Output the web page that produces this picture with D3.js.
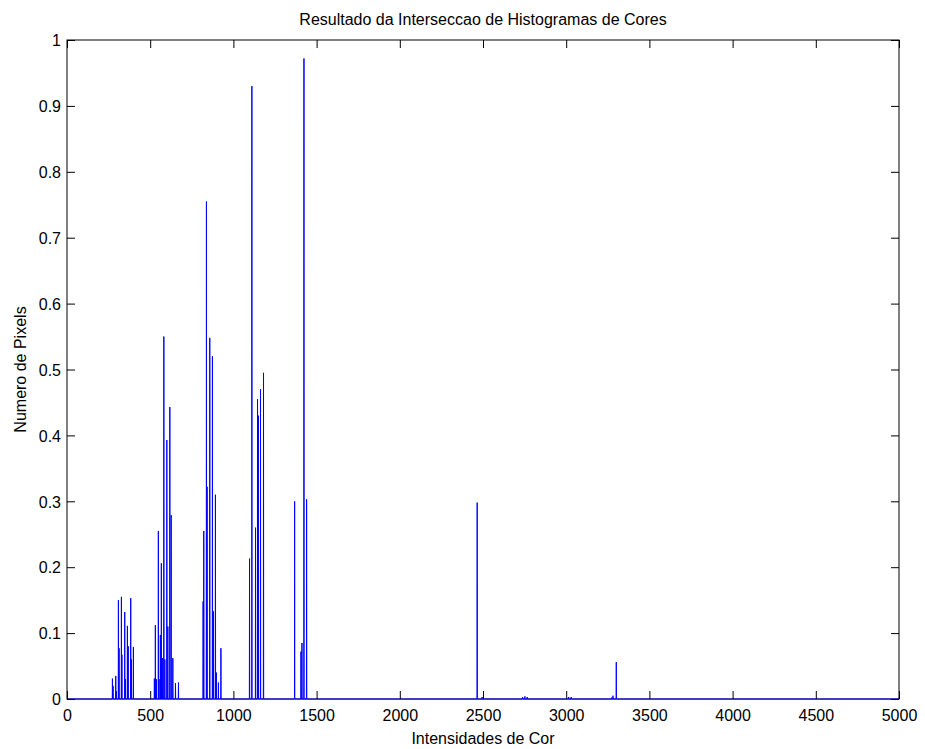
<!DOCTYPE html>
<html>
<head>
<meta charset="utf-8">
<script src="https://cdn.jsdelivr.net/npm/d3@7"></script>
<style>
  html, body { margin: 0; padding: 0; background: #fff; }
  svg { display: block; }
  text { font-family: Arial, "Liberation Sans", Helvetica, sans-serif; fill: #000; }
</style>
</head>
<body>
<svg id="chart" width="925" height="749"></svg>
<script>
// ---- data ----
const titleText = "Resultado da Interseccao de Histogramas de Cores";
const xLabelText = "Intensidades de Cor";
const yLabelText = "Numero de Pixels";

const xTicks = [0, 500, 1000, 1500, 2000, 2500, 3000, 3500, 4000, 4500, 5000];
const yTicks = [0, 0.1, 0.2, 0.3, 0.4, 0.5, 0.6, 0.7, 0.8, 0.9, 1];
const yTickLabels = ["0", "0.1", "0.2", "0.3", "0.4", "0.5", "0.6", "0.7", "0.8", "0.9", "1"];

// bin index of each non-zero histogram value
const spikeBins = [
  273, 277, 293, 297, 309, 313, 327, 330, 347, 351, 363, 368, 383, 387, 399,
  525, 531, 537, 549, 553, 561, 567, 573, 582, 588, 600, 606, 618, 626, 636, 652, 670,
  818, 822, 838, 842, 858, 874, 880, 892, 898, 910, 925,
  1097, 1111, 1133, 1145, 1150, 1163, 1181,
  1368, 1406, 1412, 1424, 1440,
  2465, 2495, 2738, 2752, 2766, 3015, 3030, 3272, 3281, 3301
];
// intersection value of each bin
const spikeValues = [
  0.031, 0.020, 0.035, 0.012, 0.150, 0.077, 0.155, 0.067, 0.132, 0.030, 0.111, 0.080, 0.153, 0.060, 0.079,
  0.031, 0.112, 0.030, 0.255, 0.030, 0.097, 0.206, 0.062, 0.550, 0.060, 0.393, 0.110, 0.443, 0.279, 0.062, 0.024, 0.025,
  0.148, 0.255, 0.755, 0.322, 0.548, 0.520, 0.133, 0.310, 0.040, 0.025, 0.077,
  0.213, 0.930, 0.260, 0.455, 0.430, 0.470, 0.495,
  0.300, 0.072, 0.085, 0.972, 0.303,
  0.298, 0.003, 0.003, 0.004, 0.003, 0.003, 0.003, 0.002, 0.005, 0.056
];
const xDomain = [0, 5000];
const yDomain = [0, 1];

// ---- layout ----
const mLeft = 67, mRight = 899, mTop = 40, mBottom = 699;
const svg = d3.select("#chart");

const x = d3.scaleLinear().domain(xDomain).range([mLeft, mRight]);
const y = d3.scaleLinear().domain(yDomain).range([mBottom, mTop]);

// build the plotted series: zero everywhere except the listed bins
const pts = [[xDomain[0], 0]];
spikeBins.forEach((b, i) => {
  pts.push([b - 1, 0], [b, spikeValues[i]], [b + 1, 0]);
});
pts.push([xDomain[1], 0]);

const line = d3.line().x(d => x(d[0])).y(d => y(d[1]));

// axes box
svg.append("rect")
  .attr("x", mLeft).attr("y", mTop)
  .attr("width", mRight - mLeft).attr("height", mBottom - mTop)
  .attr("fill", "#fff").attr("stroke", "#000").attr("stroke-width", 1);

// data line
svg.append("path")
  .datum(pts)
  .attr("d", line)
  .attr("fill", "none")
  .attr("stroke", "#0000ff")
  .attr("stroke-width", 1);

const tickLen = 8;
// bottom axis (ticks inward) + labels
const xAxisB = d3.axisBottom(x).tickValues(xTicks).tickSize(-tickLen).tickPadding(0).tickFormat(d3.format("d"));
const gxb = svg.append("g").attr("transform", `translate(0,${mBottom})`).call(xAxisB);
gxb.select(".domain").remove();
gxb.selectAll("text").attr("y", 22).attr("dy", null).style("font-size", "16px");
// top axis ticks
const gxt = svg.append("g").attr("transform", `translate(0,${mTop})`)
  .call(d3.axisTop(x).tickValues(xTicks).tickSize(-tickLen).tickFormat(""));
gxt.select(".domain").remove();

// left axis + labels
const yAxisL = d3.axisLeft(y).tickValues(yTicks).tickSize(-tickLen).tickPadding(0)
  .tickFormat((d, i) => yTickLabels[i]);
const gyl = svg.append("g").attr("transform", `translate(${mLeft},0)`).call(yAxisL);
gyl.select(".domain").remove();
gyl.selectAll("text").attr("x", -6).attr("dy", "0.36em").style("font-size", "16px");
// right axis ticks
const gyr = svg.append("g").attr("transform", `translate(${mRight},0)`)
  .call(d3.axisRight(y).tickValues(yTicks).tickSize(-tickLen).tickFormat(""));
gyr.select(".domain").remove();

svg.selectAll(".tick line").attr("stroke", "#000");
svg.selectAll(".tick text").attr("fill", "#000").style("font-family", "Arial, 'Liberation Sans', sans-serif");

// titles
svg.append("text")
  .attr("x", (mLeft + mRight) / 2).attr("y", 25)
  .attr("text-anchor", "middle").style("font-size", "16px")
  .text(titleText);
svg.append("text")
  .attr("x", (mLeft + mRight) / 2).attr("y", 744)
  .attr("text-anchor", "middle").style("font-size", "16px")
  .text(xLabelText);
svg.append("text")
  .attr("transform", `translate(26,${(mTop + mBottom) / 2}) rotate(-90)`)
  .attr("text-anchor", "middle").style("font-size", "16px")
  .text(yLabelText);
</script>
</body>
</html>
